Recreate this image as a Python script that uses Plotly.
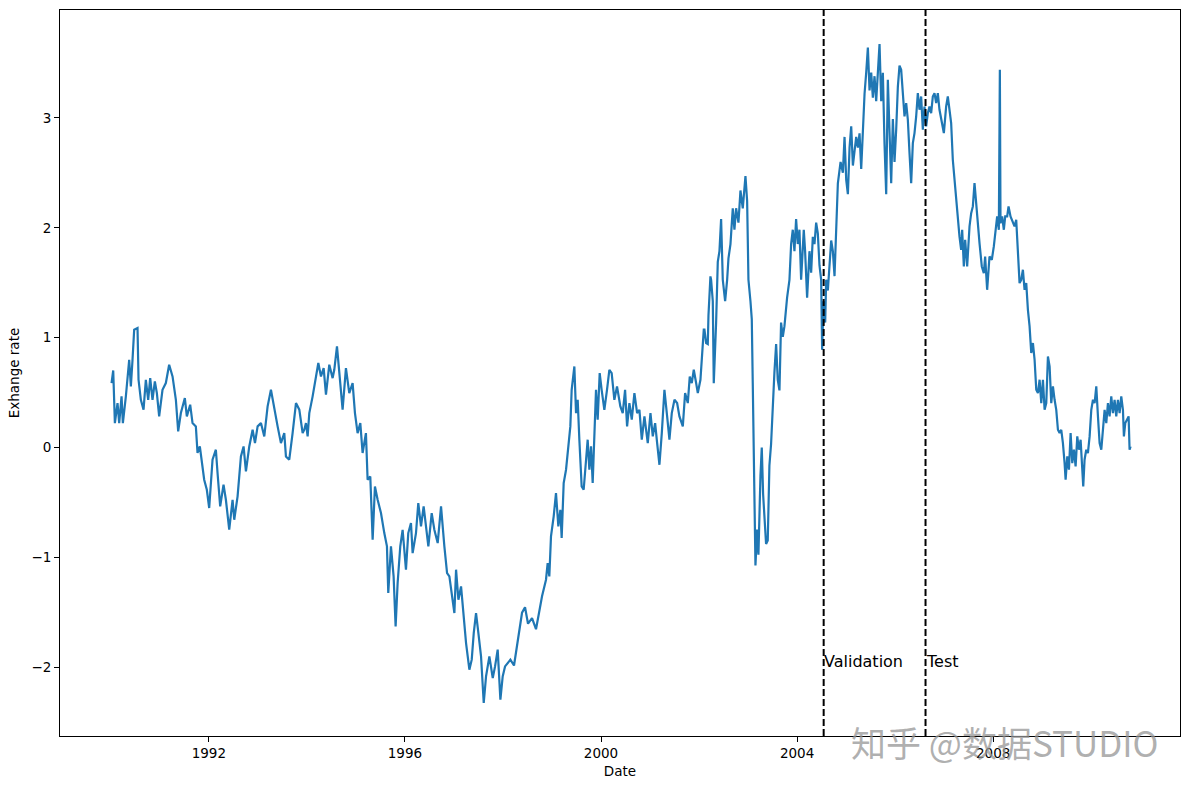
import pandas as pd
import plotly.graph_objects as go

# ---- data (decimal year, normalised exchange rate) ----
year_dec = [
    1990.014, 1990.048, 1990.082, 1990.136, 1990.170, 1990.218, 1990.245, 1990.306, 1990.374, 1990.408,
    1990.442, 1990.476, 1990.544, 1990.565, 1990.612, 1990.667, 1990.714, 1990.762, 1990.803, 1990.850,
    1990.898, 1990.939, 1990.986, 1991.054, 1991.122, 1991.190, 1991.259, 1991.327, 1991.374, 1991.429,
    1991.510, 1991.551, 1991.619, 1991.667, 1991.735, 1991.769, 1991.816, 1991.850, 1991.905, 1991.959,
    1992.007, 1992.075, 1992.143, 1992.177, 1992.231, 1992.299, 1992.347, 1992.415, 1992.483, 1992.517,
    1992.585, 1992.653, 1992.707, 1992.755, 1992.823, 1992.891, 1992.939, 1992.993, 1993.061, 1993.129,
    1993.197, 1993.265, 1993.333, 1993.401, 1993.469, 1993.537, 1993.571, 1993.639, 1993.707, 1993.776,
    1993.844, 1993.912, 1993.946, 1993.980, 1994.014, 1994.048, 1994.116, 1994.184, 1994.232, 1994.286,
    1994.341, 1994.388, 1994.456, 1994.524, 1994.558, 1994.613, 1994.660, 1994.728, 1994.796, 1994.864,
    1994.932, 1994.980, 1995.034, 1995.089, 1995.136, 1995.204, 1995.238, 1995.293, 1995.341, 1995.388,
    1995.443, 1995.511, 1995.579, 1995.633, 1995.660, 1995.715, 1995.769, 1995.810, 1995.851, 1995.905,
    1995.953, 1996.021, 1996.068, 1996.123, 1996.157, 1996.225, 1996.272, 1996.327, 1996.381, 1996.429,
    1996.477, 1996.545, 1996.599, 1996.667, 1996.735, 1996.803, 1996.858, 1996.905, 1996.973, 1997.007,
    1997.041, 1997.089, 1997.143, 1997.198, 1997.245, 1997.313, 1997.361, 1997.402, 1997.449, 1997.497,
    1997.551, 1997.606, 1997.653, 1997.721, 1997.790, 1997.837, 1997.891, 1997.946, 1997.993, 1998.041,
    1998.095, 1998.150, 1998.224, 1998.306, 1998.388, 1998.449, 1998.510, 1998.592, 1998.673, 1998.735,
    1998.796, 1998.877, 1998.911, 1998.945, 1998.979, 1999.034, 1999.081, 1999.129, 1999.170, 1999.197,
    1999.238, 1999.286, 1999.333, 1999.374, 1999.401, 1999.456, 1999.490, 1999.524, 1999.558, 1999.605,
    1999.646, 1999.694, 1999.728, 1999.762, 1999.796, 1999.830, 1999.864, 1999.898, 1999.932, 1999.973,
    2000.013, 2000.068, 2000.122, 2000.170, 2000.217, 2000.272, 2000.326, 2000.394, 2000.442, 2000.490,
    2000.531, 2000.578, 2000.626, 2000.680, 2000.735, 2000.782, 2000.830, 2000.884, 2000.952, 2001.007,
    2001.054, 2001.102, 2001.143, 2001.190, 2001.238, 2001.292, 2001.347, 2001.394, 2001.442, 2001.497,
    2001.551, 2001.598, 2001.667, 2001.714, 2001.769, 2001.809, 2001.850, 2001.891, 2001.939, 2001.973,
    2002.027, 2002.054, 2002.095, 2002.109, 2002.143, 2002.177, 2002.191, 2002.231, 2002.245, 2002.279,
    2002.299, 2002.347, 2002.381, 2002.415, 2002.449, 2002.483, 2002.531, 2002.572, 2002.599, 2002.640,
    2002.687, 2002.721, 2002.755, 2002.803, 2002.844, 2002.891, 2002.946, 2002.980, 2003.007, 2003.048,
    2003.075, 2003.095, 2003.116, 2003.129, 2003.150, 2003.184, 2003.211, 2003.252, 2003.279, 2003.306,
    2003.333, 2003.367, 2003.401, 2003.435, 2003.469, 2003.503, 2003.537, 2003.572, 2003.605, 2003.640,
    2003.673, 2003.708, 2003.742, 2003.796, 2003.844, 2003.878, 2003.912, 2003.946, 2003.980, 2004.014,
    2004.048, 2004.082, 2004.136, 2004.163, 2004.204, 2004.252, 2004.286, 2004.320, 2004.354, 2004.388,
    2004.422, 2004.456, 2004.490, 2004.510, 2004.538, 2004.572, 2004.592, 2004.626, 2004.660, 2004.694,
    2004.728, 2004.762, 2004.796, 2004.830, 2004.885, 2004.932, 2004.966, 2005.000, 2005.034, 2005.068,
    2005.102, 2005.136, 2005.170, 2005.204, 2005.238, 2005.272, 2005.306, 2005.340, 2005.374, 2005.408,
    2005.442, 2005.476, 2005.510, 2005.544, 2005.578, 2005.612, 2005.646, 2005.680, 2005.714, 2005.748,
    2005.782, 2005.816, 2005.850, 2005.885, 2005.918, 2005.952, 2005.986, 2006.020, 2006.054, 2006.088,
    2006.122, 2006.156, 2006.190, 2006.224, 2006.258, 2006.292, 2006.326, 2006.360, 2006.394, 2006.428,
    2006.462, 2006.496, 2006.530, 2006.564, 2006.598, 2006.632, 2006.666, 2006.700, 2006.734, 2006.768,
    2006.802, 2006.836, 2006.870, 2006.904, 2006.938, 2006.993, 2007.040, 2007.074, 2007.108, 2007.142,
    2007.176, 2007.210, 2007.244, 2007.278, 2007.312, 2007.346, 2007.367, 2007.401, 2007.428, 2007.469,
    2007.517, 2007.551, 2007.585, 2007.619, 2007.653, 2007.687, 2007.721, 2007.768, 2007.809, 2007.836,
    2007.877, 2007.925, 2007.972, 2008.013, 2008.047, 2008.081, 2008.115, 2008.136, 2008.149, 2008.183,
    2008.217, 2008.245, 2008.285, 2008.313, 2008.353, 2008.401, 2008.435, 2008.469, 2008.503, 2008.537,
    2008.571, 2008.605, 2008.639, 2008.673, 2008.707, 2008.741, 2008.775, 2008.809, 2008.843, 2008.877,
    2008.911, 2008.945, 2008.979, 2009.013, 2009.047, 2009.081, 2009.115, 2009.149, 2009.183, 2009.217,
    2009.251, 2009.285, 2009.319, 2009.353, 2009.387, 2009.421, 2009.455, 2009.476, 2009.510, 2009.544,
    2009.578, 2009.612, 2009.646, 2009.680, 2009.714, 2009.748, 2009.782, 2009.809, 2009.836, 2009.863,
    2009.897, 2009.931, 2009.966, 2010.000, 2010.034, 2010.068, 2010.102, 2010.136, 2010.170, 2010.204,
    2010.238, 2010.272, 2010.306, 2010.340, 2010.374, 2010.408, 2010.442, 2010.476, 2010.510, 2010.544,
    2010.578, 2010.612, 2010.646, 2010.666, 2010.694, 2010.735, 2010.762, 2010.782, 2010.803,
]

exchange_rate = [
    0.588, 0.703, 0.224, 0.406, 0.224, 0.467, 0.224, 0.467, 0.800, 0.558,
    0.800, 1.073, 1.088, 0.618, 0.436, 0.346, 0.618, 0.436, 0.633, 0.436,
    0.603, 0.497, 0.285, 0.527, 0.588, 0.755, 0.648, 0.436, 0.149, 0.315,
    0.452, 0.285, 0.391, 0.224, 0.194, -0.048, 0.012, -0.109, -0.291, -0.382,
    -0.548, -0.109, -0.018, -0.230, -0.533, -0.336, -0.473, -0.745, -0.473, -0.655,
    -0.442, -0.079, 0.012, -0.215, 0.012, 0.164, 0.042, 0.194, 0.224, 0.103,
    0.376, 0.527, 0.346, 0.194, 0.042, 0.133, -0.079, -0.109, 0.133, 0.406,
    0.346, 0.133, 0.164, 0.224, 0.103, 0.315, 0.467, 0.648, 0.770, 0.648,
    0.724, 0.482, 0.755, 0.633, 0.709, 0.921, 0.694, 0.346, 0.724, 0.497,
    0.588, 0.315, 0.133, 0.224, -0.048, 0.133, -0.291, -0.261, -0.836, -0.352,
    -0.473, -0.594, -0.776, -0.897, -1.321, -0.897, -1.170, -1.624, -1.230, -0.897,
    -0.746, -1.109, -0.776, -0.685, -0.958, -0.776, -0.503, -0.715, -0.533, -0.715,
    -0.897, -0.594, -0.746, -0.867, -0.533, -0.897, -1.140, -1.170, -1.382, -1.503,
    -1.109, -1.382, -1.261, -1.564, -1.776, -2.018, -1.927, -1.685, -1.503, -1.685,
    -1.897, -2.321, -2.079, -1.897, -2.094, -1.988, -1.836, -2.291, -2.079, -1.988,
    -1.958, -1.927, -1.980, -1.750, -1.500, -1.450, -1.600, -1.550, -1.650, -1.500,
    -1.350, -1.200, -1.049, -1.170, -0.806, -0.624, -0.412, -0.715, -0.564, -0.821,
    -0.321, -0.200, 0.042, 0.194, 0.527, 0.739, 0.315, 0.436, 0.073, -0.352,
    -0.382, -0.140, 0.073, -0.200, 0.012, -0.321, 0.042, 0.527, 0.255, 0.679,
    0.527, 0.345, 0.527, 0.709, 0.679, 0.436, 0.558, 0.376, 0.315, 0.527,
    0.194, 0.406, 0.255, 0.497, 0.315, 0.345, 0.073, 0.285, 0.042, 0.315,
    0.103, 0.224, 0.042, -0.155, 0.133, 0.527, 0.285, 0.073, 0.315, 0.436,
    0.406, 0.285, 0.194, 0.497, 0.406, 0.648, 0.588, 0.709, 0.588, 0.497,
    0.618, 0.830, 1.073, 1.073, 0.952, 0.943, 1.203, 1.558, 1.527, 1.332,
    0.586, 1.138, 1.690, 1.787, 2.079, 1.527, 1.332, 1.527, 1.722, 1.852,
    2.177, 1.982, 2.177, 2.047, 2.339, 2.177, 2.469, 2.242, 1.527, 1.332,
    1.170, 0.586, -0.031, -0.518, -1.070, -0.745, -0.973, -0.258, 0.001, -0.421,
    -0.681, -0.875, -0.843, -0.161, 0.034, 0.391, 0.683, 0.943, 0.618, 0.521,
    1.138, 1.008, 1.105, 1.365, 1.527, 1.852, 1.982, 1.787, 2.079, 1.852,
    1.982, 1.527, 1.982, 1.787, 1.365, 1.787, 1.592, 1.917, 1.852, 2.047,
    1.949, 1.657, 1.527, 0.890, 1.332, 1.138, 1.527, 1.430, 1.722, 1.884,
    1.787, 1.560, 1.982, 2.404, 2.599, 2.501, 2.826, 2.436, 2.306, 2.729,
    2.923, 2.566, 2.696, 2.826, 2.729, 2.858, 2.534, 2.891, 3.216, 3.410,
    3.638, 3.248, 3.410, 3.183, 3.378, 3.151, 3.475, 3.670, 3.151, 3.410,
    2.761, 2.306, 3.345, 2.826, 2.404, 2.988, 2.599, 2.891, 3.281, 3.475,
    3.436, 3.224, 3.012, 3.133, 2.982, 2.679, 2.406, 2.770, 2.861, 3.012,
    3.224, 3.073, 3.194, 2.891, 3.103, 2.921, 3.042, 3.103, 3.042, 3.194,
    3.224, 3.133, 3.224, 3.073, 2.982, 2.861, 3.103, 3.194, 3.073, 2.952,
    2.618, 2.436, 2.254, 2.103, 1.921, 1.800, 1.982, 1.648, 1.891, 1.648,
    2.012, 2.133, 2.194, 2.406, 2.194, 2.042, 1.861, 1.648, 1.588, 1.739,
    1.436, 1.739, 1.709, 1.830, 1.982, 2.103, 1.982, 3.436, 2.042, 2.103,
    1.982, 2.103, 2.103, 2.194, 2.103, 2.042, 2.012, 2.073, 1.800, 1.497,
    1.527, 1.618, 1.436, 1.497, 1.254, 1.103, 0.861, 0.952, 0.800, 0.527,
    0.497, 0.618, 0.406, 0.618, 0.345, 0.406, 0.830, 0.739, 0.406, 0.558,
    0.436, 0.345, 0.163, 0.133, 0.163, 0.042, -0.140, -0.291, -0.079, -0.200,
    0.133, -0.140, -0.018, -0.170, 0.103, -0.018, 0.073, -0.200, -0.352, -0.109,
    -0.018, -0.049, 0.103, 0.345, 0.436, 0.406, 0.558, 0.285, 0.042, -0.018,
    0.194, 0.345, 0.224, 0.406, 0.285, 0.467, 0.315, 0.436, 0.285, 0.436,
    0.315, 0.467, 0.345, 0.103, 0.224, 0.254, 0.285, -0.018, 0.012,
]

split_dates = ["2004-07-17", "2006-08-15"]
split_labels = ["Validation", "Test"]
label_y = -2
tick_years = [1992, 1996, 2000, 2004, 2008]
y_ticks = [-2, -1, 0, 1, 2, 3]


def dec_to_ts(y):
    yr = int(y)
    start = pd.Timestamp(yr, 1, 1)
    end = pd.Timestamp(yr + 1, 1, 1)
    return start + (end - start) * (y - yr)


dates = [dec_to_ts(v) for v in year_dec]

fig = go.Figure()
fig.add_trace(go.Scatter(
    x=dates, y=exchange_rate, mode="lines",
    line=dict(color="#1f77b4", width=2.2),
    showlegend=False, hoverinfo="skip",
))

for d, lab in zip(split_dates, split_labels):
    fig.add_shape(type="line", xref="x", yref="paper", x0=d, x1=d, y0=0, y1=1,
                  line=dict(color="black", width=2, dash="7px,3px"), layer="above")
    fig.add_annotation(x=d, y=label_y, xref="x", yref="y", text=lab, showarrow=False,
                       xanchor="left", yanchor="bottom", yshift=-5, xshift=-2,
                       font=dict(family="DejaVu Sans", size=16, color="black"))

# watermark
fig.add_annotation(xref="paper", yref="paper", x=0.844, y=-0.008, text="知乎 @数据STUDIO",
                   showarrow=False, xanchor="center", yanchor="middle",
                   font=dict(family="Noto Sans CJK SC", size=35, color="rgba(150,150,150,0.75)"))

axis_common = dict(showline=True, linecolor="black", linewidth=1, mirror=True,
                   ticks="outside", ticklen=5, tickwidth=1, tickcolor="black",
                   showgrid=False, zeroline=False,
                   tickfont=dict(family="DejaVu Sans", size=13.5, color="black"))

fig.update_xaxes(
    range=["1988-12-18", "2011-10-24"],
    tickvals=[f"{y}-01-01" for y in tick_years],
    ticktext=[str(y) for y in tick_years],
    title=dict(text="Date", font=dict(family="DejaVu Sans", size=13.5, color="black"), standoff=6),
    **axis_common,
)
fig.update_yaxes(
    range=[-2.621, 3.98],
    tickvals=y_ticks,
    title=dict(text="Exhange rate", font=dict(family="DejaVu Sans", size=13.5, color="black"), standoff=8),
    **axis_common,
)

fig.update_layout(
    width=1189, height=790,
    margin=dict(l=60, r=9, t=10, b=54, autoexpand=False),
    plot_bgcolor="white", paper_bgcolor="white",
    font=dict(family="DejaVu Sans"),
)

fig.write_html("out.html")
